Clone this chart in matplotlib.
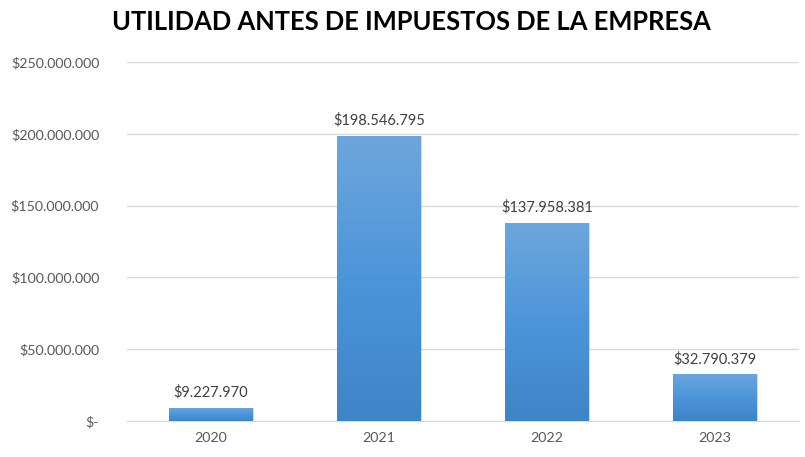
import matplotlib
matplotlib.use('Agg')
import matplotlib.pyplot as plt
import numpy as np
from matplotlib.colors import LinearSegmentedColormap
from matplotlib.patches import Rectangle

years = ['2020', '2021', '2022', '2023']
utilidad = [9227970, 198546795, 137958381, 32790379]
y_ticks = [0, 50000000, 100000000, 150000000, 200000000, 250000000]


def pesos(v):
    if v == 0:
        return '$-'
    return '$' + f'{v:,.0f}'.replace(',', '.')


plt.rcParams['font.family'] = ['Lato', 'DejaVu Sans']
txt = '#595959'

fig = plt.figure(figsize=(8.05, 4.57), dpi=100)
ax = fig.add_axes([127 / 805, (457 - 421) / 457, 672 / 805, (421 - 62) / 457])

x = np.arange(len(years))
bars = ax.bar(x, utilidad, width=0.5, color='none', zorder=3)

# vertical gradient fill inside each bar, with a faint soft shadow
cmap = LinearSegmentedColormap.from_list('azul', ['#3e85c7', '#4d95da', '#6ea6dc'])
grad = np.linspace(0, 1, 256).reshape(-1, 1)
for b in bars:
    bx, bw, bh = b.get_x(), b.get_width(), b.get_height()
    for k, a in [(0.004, 0.25), (0.008, 0.12)]:
        ax.add_patch(Rectangle((bx + k, 0), bw, bh * 0.998, facecolor='#909090',
                               alpha=a, zorder=2, edgecolor='none'))
    im = ax.imshow(grad, cmap=cmap, aspect='auto', origin='lower',
                   extent=[bx, bx + bw, 0, bh], zorder=3)
    im.set_clip_path(b)
    ax.text(bx + bw / 2, bh + 5500000, pesos(bh), ha='center', va='bottom',
            fontsize=10.5, color='#404040', zorder=4)

ax.set_xlim(-0.5, 3.5)
ax.set_ylim(0, 250000000)
ax.set_yticks(y_ticks)
ax.set_yticklabels([pesos(v) for v in y_ticks])
ax.set_xticks(x)
ax.set_xticklabels(years)
ax.tick_params(axis='both', length=0, labelsize=10.3, labelcolor=txt)
ax.tick_params(axis='y', pad=20)
ax.tick_params(axis='x', pad=8)
ax.grid(axis='y', color='#d9d9d9', linewidth=1, zorder=0)
ax.set_axisbelow(True)
for s in ['top', 'right', 'left']:
    ax.spines[s].set_visible(False)
ax.spines['bottom'].set_color('#d9d9d9')

fig.text(0.511, 0.952, 'UTILIDAD ANTES DE IMPUESTOS DE LA EMPRESA', ha='center', va='center',
         fontsize=18.4, fontweight='bold', color='black')

fig.savefig('out.png', dpi=100)
